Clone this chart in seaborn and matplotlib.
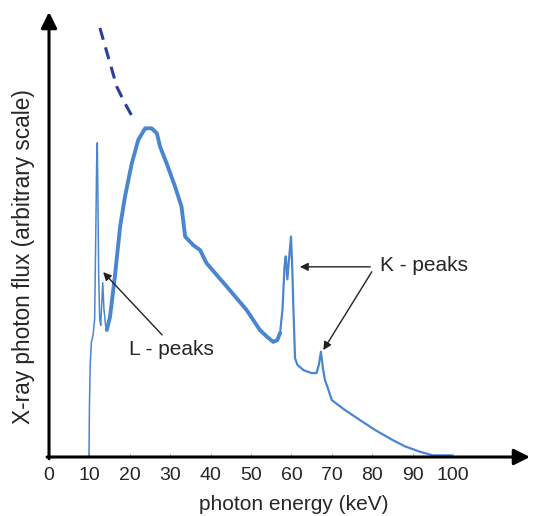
import matplotlib
matplotlib.use("Agg")
import matplotlib.pyplot as plt
import seaborn as sns
import pandas as pd

# ---- data (photon energy in keV, flux in arbitrary units, peak ~100) ----
l_energy = [9.9, 10.0, 10.2, 10.5, 10.9, 11.3, 11.6, 11.8, 11.95, 12.1, 12.3,
            12.55, 12.8, 13.0, 13.3, 13.6, 14.0, 14.3]
l_flux = [0, 15, 28, 35, 37, 42, 70, 90, 95.5, 80, 55,
          42, 40, 45, 53, 45, 40, 38.6]

main_energy = [14.3, 15.1, 16.3, 17.6, 18.8, 20.5, 22.1, 23.8, 25.4, 26.7,
               27.5, 29.1, 31.2, 32.8, 33.7, 35.7, 37.4, 39.0, 44.0, 48.9,
               52.2, 54.0, 55.5, 56.5, 57.2]
main_flux = [38.6, 42.6, 54.8, 70.0, 79.1, 89.3, 96.4, 99.9, 99.9, 98.4,
             94.3, 89.3, 82.2, 76.1, 67.0, 64.4, 62.9, 58.9, 51.8, 44.7,
             38.6, 36.5, 35.0, 35.5, 37.7]

k_energy = [57.2, 57.8, 58.3, 58.6, 59.0, 59.4, 59.9, 60.2, 60.5, 60.9,
            61.5, 63.0, 65.0, 66.2, 66.8, 67.3, 67.8, 68.3, 69.0, 70.0,
            73.0, 77.0, 81.0, 85.0, 88.0, 91.8, 95.0, 99.7]
k_flux = [37.7, 45, 58, 61, 54, 60, 67, 58, 45, 30,
          28, 26.4, 25.5, 25.5, 28, 32, 27, 23.4, 21, 17.3,
          14.5, 11.2, 8.0, 5.2, 3.3, 1.6, 0.5, 0.5]

low_energy = [0, 10]
low_flux = [0, 0]

dash_energy = [12.6, 15.1, 16.8, 18.8, 21.3]
dash_flux = [130.4, 119.7, 112.5, 107.5, 101.9]

x_ticks = [0, 10, 20, 30, 40, 50, 60, 70, 80, 90, 100]

# ---- figure ----
sns.set_style("white")
plt.rcParams['font.family'] = ['Liberation Sans', 'DejaVu Sans']

fig = plt.figure(figsize=(5.36, 5.16), dpi=100)
ax = fig.add_axes([49 / 536, 59 / 516, 481 / 536, 445 / 516])

blue = '#4a86d0'
sns.lineplot(x=low_energy, y=low_flux, ax=ax, color='#e9a3a3', lw=1.0, sort=False)
sns.lineplot(x=l_energy, y=l_flux, ax=ax, color=blue, lw=1.1, sort=False)
sns.lineplot(x=main_energy, y=main_flux, ax=ax, color=blue, lw=2.8, sort=False)
sns.lineplot(x=k_energy, y=k_flux, ax=ax, color=blue, lw=1.6, sort=False)
sns.lineplot(x=dash_energy, y=dash_flux, ax=ax, color='#2b3f99', lw=2.2,
             sort=False, dashes=False).lines[-1].set_dashes((4, 2.6))
for ln in ax.lines:
    ln.set_solid_joinstyle('round')
    ln.set_solid_capstyle('round')

ax.set_xlim(0, 481 / 4.04)
ax.set_ylim(0, 445 / 3.29)
ax.set_xticks(x_ticks)
ax.set_xticklabels([str(t) for t in x_ticks], fontsize=14)
ax.set_yticks([])
ax.tick_params(axis='x', direction='in', length=3, width=0.8, color='#bbbbbb',
               pad=7, bottom=True)
for s in ax.spines.values():
    s.set_visible(False)
ax.set_xlabel('')
ax.set_ylabel('')

# axis arrows
arrow_kw = dict(arrowstyle='-|>', color='black', lw=2.2, mutation_scale=24,
                shrinkA=0, shrinkB=0)
ax.annotate('', xy=(1, 0), xytext=(-0.004, 0), xycoords='axes fraction',
            arrowprops=arrow_kw, annotation_clip=False)
ax.annotate('', xy=(0, 1), xytext=(0, -0.004), xycoords='axes fraction',
            arrowprops=arrow_kw, annotation_clip=False)

# annotations
ann_kw = dict(arrowstyle='-|>', color='#222222', lw=1.0, mutation_scale=12,
              shrinkA=0, shrinkB=0)
ax.text(92.8, 58.1, 'K - peaks', fontsize=15, ha='center', va='center')
ax.annotate('', xy=(62.1, 57.8), xytext=(79.5, 57.8), arrowprops=ann_kw)
ax.annotate('', xy=(67.9, 32.5), xytext=(79.9, 56.3), arrowprops=ann_kw)
ax.text(30.4, 32.8, 'L - peaks', fontsize=15, ha='center', va='center')
ax.annotate('', xy=(13.4, 56.2), xytext=(28.0, 37.1), arrowprops=ann_kw)

fig.text(293.5 / 536, 11 / 516, 'photon energy (keV)', fontsize=15,
         ha='center', va='center')
fig.text(24 / 536, (516 - 257) / 516, 'X-ray photon flux (arbitrary scale)',
         fontsize=16.3, rotation=90, ha='center', va='center')

fig.savefig('out.png', dpi=100)
